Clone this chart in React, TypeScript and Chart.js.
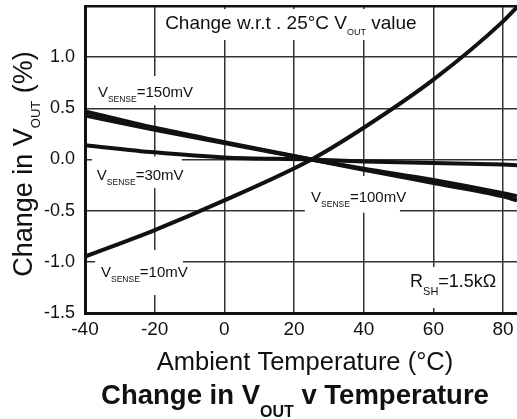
import { useEffect, useRef } from 'react';
import { Chart, registerables } from 'chart.js';

Chart.register(...registerables);

const FONT = "'Liberation Sans', Arial, Helvetica, sans-serif";

// Ambient temperature (°C) sample points
const temps = [-40, -20, 0, 25, 40, 60, 80, 84];
// Change in VOUT (%) per VSENSE
const vsense10 = [-0.95, -0.69, -0.4, 0, 0.31, 0.78, 1.35, 1.49];
const vsense30 = [0.14, 0.07, 0.02, 0, -0.02, -0.035, -0.05, -0.055];
const vsense100 = [0.43, 0.29, 0.16, 0, -0.09, -0.2, -0.33, -0.36];
const vsense150 = [0.47, 0.31, 0.17, 0, -0.1, -0.23, -0.36, -0.4];

const xTickValues = [-40, -20, 0, 20, 40, 60, 80];
const yTickValues = [-1.5, -1, -0.5, 0, 0.5, 1, 1.5];

type Part = { t: string; size: number; bold?: boolean; dy?: number };

function richWidth(ctx: CanvasRenderingContext2D, parts: Part[]) {
  let w = 0;
  for (const p of parts) {
    ctx.font = `${p.bold ? 'bold ' : ''}${p.size}px ${FONT}`;
    w += ctx.measureText(p.t).width;
  }
  return w;
}

function drawRich(ctx: CanvasRenderingContext2D, parts: Part[], x: number, y: number, align: 'left' | 'center') {
  ctx.save();
  ctx.fillStyle = '#111';
  ctx.textBaseline = 'alphabetic';
  ctx.textAlign = 'left';
  let cx = align === 'center' ? x - richWidth(ctx, parts) / 2 : x;
  for (const p of parts) {
    ctx.font = `${p.bold ? 'bold ' : ''}${p.size}px ${FONT}`;
    ctx.fillText(p.t, cx, y + (p.dy || 0));
    cx += ctx.measureText(p.t).width;
  }
  ctx.restore();
}

const vsenseParts = (val: string): Part[] => [
  { t: 'V', size: 15 },
  { t: 'SENSE', size: 8.5, dy: 5 },
  { t: '=' + val, size: 15 },
];

// annotation boxes & text anchors in data coordinates
const annots: { box: [number, number, number, number]; at: [number, number]; parts: Part[] }[] = [
  {
    box: [-18.5, 1.47, 56.2, 1.168],
    at: [-17.0, 1.275],
    parts: [
      { t: 'Change w.r.t . 25°C V', size: 19 },
      { t: 'OUT', size: 9, dy: 6 },
      { t: ' value', size: 19 },
    ],
  },
  { box: [-38.0, 0.816, -9.9, 0.53], at: [-36.3, 0.611], parts: vsenseParts('150mV') },
  { box: [-38.0, 0.03, -12.2, -0.279], at: [-36.6, -0.2], parts: vsenseParts('30mV') },
  { box: [-37.1, -0.884, -11.9, -1.324], at: [-35.4, -1.148], parts: vsenseParts('10mV') },
  { box: [23.1, -0.161, 50.4, -0.52], at: [24.9, -0.415], parts: vsenseParts('100mV') },
  {
    box: [51.9, -1.051, 78.8, -1.451],
    at: [53.3, -1.246],
    parts: [
      { t: 'R', size: 18 },
      { t: 'SH', size: 11, dy: 8 },
      { t: '=1.5kΩ', size: 18 },
    ],
  },
];

const textPlugin = {
  id: 'textPlugin',
  beforeDatasetsDraw(chart: any) {
    const { ctx, scales } = chart;
    const xs = scales.x;
    const ys = scales.y;
    for (const a of annots) {
      const x0 = xs.getPixelForValue(a.box[0]);
      const x1 = xs.getPixelForValue(a.box[2]);
      const y0 = ys.getPixelForValue(a.box[1]);
      const y1 = ys.getPixelForValue(a.box[3]);
      ctx.save();
      ctx.fillStyle = '#fff';
      ctx.fillRect(Math.min(x0, x1), Math.min(y0, y1), Math.abs(x1 - x0), Math.abs(y1 - y0));
      ctx.restore();
      drawRich(ctx, a.parts, xs.getPixelForValue(a.at[0]), ys.getPixelForValue(a.at[1]), 'left');
    }
  },
  afterDraw(chart: any) {
    const { ctx } = chart;
    // y axis title
    ctx.save();
    ctx.translate(32, 164);
    ctx.rotate(-Math.PI / 2);
    drawRich(ctx, [
      { t: 'Change in V', size: 27 },
      { t: 'OUT', size: 13, dy: 8 },
      { t: ' (%)', size: 27 },
    ], 0, 0, 'center');
    ctx.restore();
    // x axis title
    drawRich(ctx, [{ t: 'Ambient Temperature (°C)', size: 25.5 }], 305, 370, 'center');
    // bottom title
    drawRich(ctx, [
      { t: 'Change in V', size: 27.5, bold: true },
      { t: 'OUT', size: 16, bold: true, dy: 13 },
      { t: ' v Temperature', size: 27.5, bold: true },
    ], 295, 404, 'center');
  },
};

const mk = (vals: number[]) => ({
  data: temps.map((t, i) => ({ x: t, y: vals[i] })),
  borderColor: '#111',
  borderWidth: 4,
  pointRadius: 0,
  fill: false,
  cubicInterpolationMode: 'monotone' as const,
});

export default function App() {
  const ref = useRef<HTMLCanvasElement>(null);
  useEffect(() => {
    if (!ref.current) return;
    const chart = new Chart(ref.current, {
      type: 'line',
      data: {
        datasets: [mk(vsense10), mk(vsense30), mk(vsense100), mk(vsense150)],
      },
      options: {
        animation: false,
        responsive: false,
        devicePixelRatio: 1,
        layout: { padding: { top: 6, left: 0, right: 0, bottom: 0 } },
        plugins: { legend: { display: false }, tooltip: { enabled: false } },
        scales: {
          x: {
            type: 'linear',
            min: -40,
            max: 84,
            afterBuildTicks: (s: any) => {
              s.ticks = xTickValues.map((v) => ({ value: v }));
            },
            afterFit: (s: any) => {
              s.height = 106;
              s.paddingLeft = 0;
              s.paddingRight = 0;
            },
            grid: { color: '#333', lineWidth: 1.5, drawTicks: false },
            border: { color: '#111', width: 3 },
            ticks: {
              font: { family: FONT, size: 19 },
              color: '#111',
              padding: 5,
              maxRotation: 0,
              autoSkip: false,
              callback: (v: any) => String(v),
            },
          },
          y: {
            type: 'linear',
            min: -1.5,
            max: 1.5,
            afterBuildTicks: (s: any) => {
              s.ticks = yTickValues.map((v) => ({ value: v }));
            },
            afterFit: (s: any) => {
              s.width = 85;
              s.paddingTop = 0;
              s.paddingBottom = 0;
            },
            grid: {
              color: (c: any) => (c.tick && c.tick.value === 1.5 ? '#111' : '#333'),
              lineWidth: (c: any) => (c.tick && c.tick.value === 1.5 ? 2.5 : 1.5),
              drawTicks: false,
            },
            border: { color: '#111', width: 3 },
            ticks: {
              font: { family: FONT, size: 18 },
              color: '#111',
              padding: 10,
              autoSkip: false,
              callback: (v: any) => (Number(v) === 1.5 ? '' : Number(v).toFixed(1)),
            },
          },
        },
      },
      plugins: [textPlugin],
    });
    return () => chart.destroy();
  }, []);
  return (
    <div style={{ position: 'fixed', left: 0, top: 0, width: 517, height: 419, background: '#fff' }}>
      <canvas ref={ref} width={517} height={419} style={{ display: 'block' }} />
    </div>
  );
}
